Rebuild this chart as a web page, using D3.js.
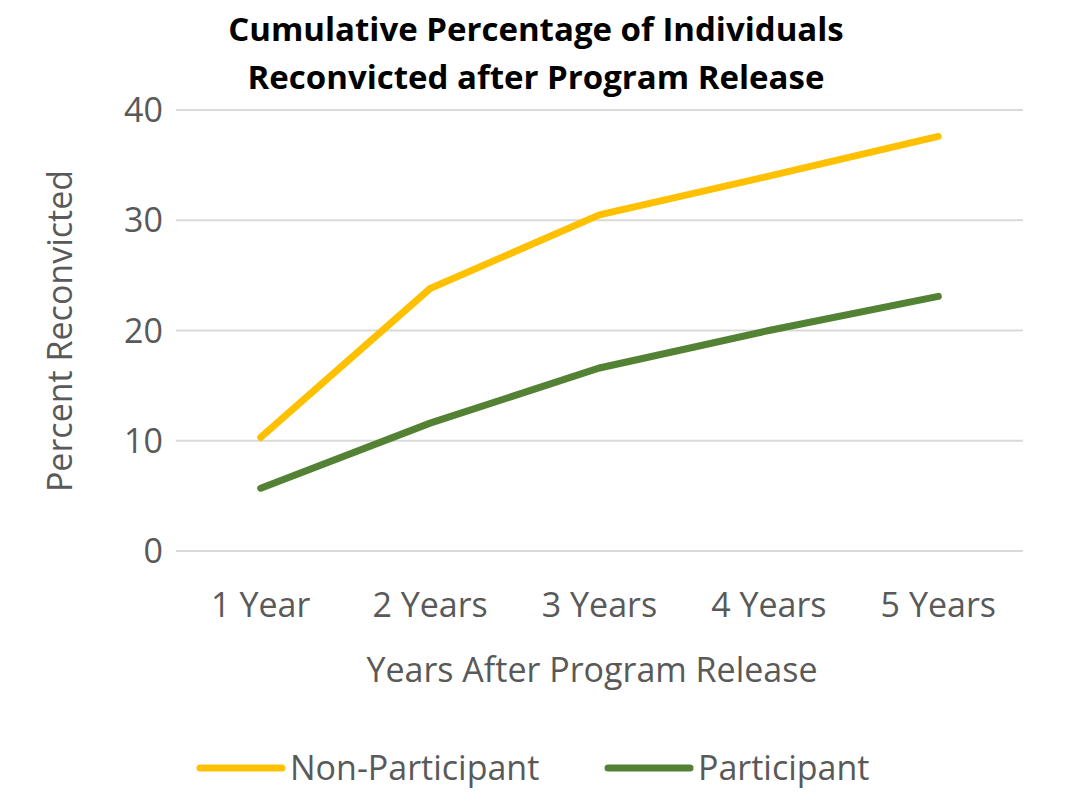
<!DOCTYPE html>
<html><head><meta charset="utf-8">
<script src="https://cdn.jsdelivr.net/npm/d3@7"></script>
<style>body{margin:0;background:#fff}text{font-family:"Open Sans","Liberation Sans",sans-serif}</style>
</head><body><svg id="c" width="1078" height="803"></svg>
<script>
const categories = ["1 Year", "2 Years", "3 Years", "4 Years", "5 Years"];
const nonParticipant = [10.3, 23.8, 30.5, 34.0, 37.6];
const participant = [5.7, 11.6, 16.6, 20.0, 23.1];
const yTicks = [0, 10, 20, 30, 40];
const seriesNames = ["Non-Participant", "Participant"];
const colors = ["#FFC000", "#548235"];

const svg = d3.select("#c");
const x = d3.scalePoint().domain(categories).range([176, 1023]).padding(0.5);
const y = d3.scaleLinear().domain([0, 40]).range([551, 110]);

svg.append("g").selectAll("line").data(yTicks).join("line")
  .attr("x1", 176).attr("x2", 1023).attr("y1", d => y(d)).attr("y2", d => y(d))
  .attr("stroke", "#d9d9d9").attr("stroke-width", 2);

svg.append("g").selectAll("text").data(yTicks).join("text")
  .attr("x", 163).attr("y", d => y(d) + 12).attr("text-anchor", "end")
  .attr("font-size", 34).attr("fill", "#595959").text(d => d);

svg.append("g").selectAll("text").data(categories).join("text")
  .attr("x", d => x(d)).attr("y", 617).attr("text-anchor", "middle")
  .attr("font-size", 34).attr("fill", "#595959").text(d => d);

svg.append("text").attr("x", 592).attr("y", 682).attr("text-anchor", "middle")
  .attr("font-size", 34).attr("fill", "#595959").text("Years After Program Release");
svg.append("text").attr("transform", "translate(72,331) rotate(-90)").attr("text-anchor", "middle")
  .attr("font-size", 34).attr("fill", "#595959").text("Percent Reconvicted");

svg.append("text").attr("x", 536).attr("y", 41).attr("text-anchor", "middle")
  .attr("font-size", 33).attr("font-weight", "bold").text("Cumulative Percentage of Individuals");
svg.append("text").attr("x", 536).attr("y", 89).attr("text-anchor", "middle")
  .attr("font-size", 33).attr("font-weight", "bold").text("Reconvicted after Program Release");

const line = d3.line().x((d, i) => x(categories[i])).y(d => y(d));
[nonParticipant, participant].forEach((s, i) => {
  svg.append("path").attr("d", line(s)).attr("fill", "none")
    .attr("stroke", colors[i]).attr("stroke-width", 7).attr("stroke-linecap", "round");
});

const lx = [200, 608];
seriesNames.forEach((n, i) => {
  svg.append("line").attr("x1", lx[i]).attr("x2", lx[i] + 82).attr("y1", 768).attr("y2", 768)
    .attr("stroke", colors[i]).attr("stroke-width", 7).attr("stroke-linecap", "round");
  svg.append("text").attr("x", lx[i] + 90).attr("y", 780).attr("font-size", 34)
    .attr("fill", "#595959").text(n);
});
</script></body></html>
